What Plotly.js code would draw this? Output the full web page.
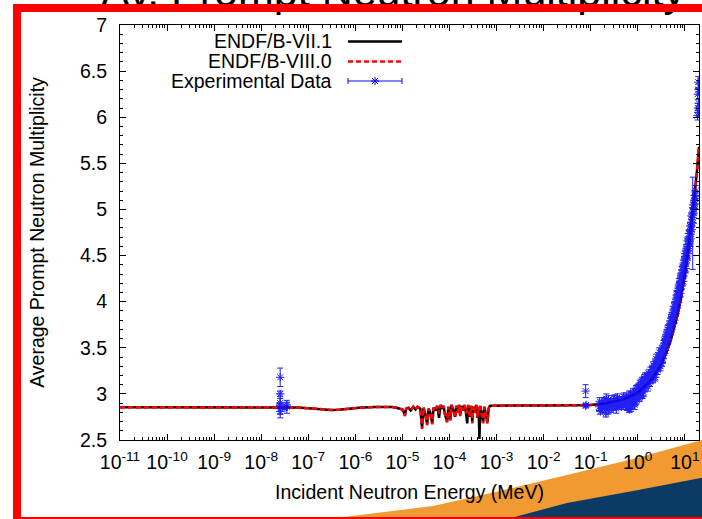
<!DOCTYPE html>
<html><head><meta charset="utf-8">
<script src="https://cdn.plot.ly/plotly-3.0.1.min.js"></script>
<style>html,body{margin:0;padding:0;background:#fff;}#chart{width:702px;height:519px;}</style>
</head><body><div id="chart"></div>
<script>
// ---------------- data ----------------
var seriesNames = ['ENDF/B-VII.1', 'ENDF/B-VIII.0', 'Experimental Data'];

var viiE = [1e-11,1e-9,1e-8,3e-8,6e-8,1e-7,2e-7,3e-7,4.5e-7,7e-7,1.2e-6,2.5e-6,5e-6,6e-6,7.5e-6,8.9e-6,1.0e-5,1.13e-5,1.2e-5,1.35e-5,1.5e-5,1.7e-5,1.9e-5,2.1e-5,2.4e-5,2.62e-5,2.8e-5,3.0e-5,3.35e-5,3.6e-5,3.9e-5,4.3e-5,4.6e-5,5.0e-5,5.5e-5,6.0e-5,6.5e-5,7.0e-5,7.5e-5,8.0e-5,8.9e-5,9.5e-5,1.04e-4,1.1e-4,1.2e-4,1.32e-4,1.4e-4,1.5e-4,1.6e-4,1.69e-4,1.8e-4,1.95e-4,2.1e-4,2.25e-4,2.38e-4,2.5e-4,2.7e-4,2.9e-4,3.05e-4,3.2e-4,3.45e-4,3.7e-4,3.95e-4,4.15e-4,4.33e-4,4.5e-4,4.8e-4,5.2e-4,5.5e-4,5.9e-4,6.4e-4,6.8e-4,7.2e-4,8e-4,1e-3,1e-2,0.05,0.1,0.2,0.5,1,2,3,4,5,6,7,8,9,10,12,14,16,18,20];
var viiNu = [2.855,2.855,2.855,2.856,2.852,2.845,2.832,2.826,2.828,2.838,2.850,2.857,2.860,2.858,2.85,2.84,2.83,2.77,2.84,2.85,2.82,2.86,2.83,2.86,2.84,2.63,2.85,2.80,2.67,2.84,2.80,2.68,2.85,2.82,2.87,2.74,2.88,2.84,2.87,2.78,2.70,2.86,2.72,2.88,2.83,2.75,2.87,2.80,2.88,2.77,2.87,2.82,2.88,2.79,2.68,2.88,2.75,2.87,2.69,2.86,2.80,2.88,2.74,2.86,2.51,2.87,2.78,2.69,2.86,2.79,2.69,2.84,2.87,2.872,2.873,2.875,2.877,2.88,2.895,2.94,3.01,3.16,3.30,3.44,3.58,3.72,3.86,4.00,4.14,4.29,4.58,4.87,5.12,5.40,5.68];

var viiiE = [1e-11,1e-9,1e-8,3e-8,6e-8,1e-7,2e-7,3e-7,4.5e-7,7e-7,1.2e-6,2.5e-6,5e-6,6e-6,7.5e-6,8.9e-6,1.0e-5,1.13e-5,1.2e-5,1.35e-5,1.5e-5,1.7e-5,1.9e-5,2.1e-5,2.4e-5,2.62e-5,2.8e-5,3.0e-5,3.35e-5,3.6e-5,3.9e-5,4.3e-5,4.6e-5,5.0e-5,5.5e-5,6.0e-5,6.5e-5,7.0e-5,7.5e-5,8.0e-5,8.9e-5,9.5e-5,1.04e-4,1.1e-4,1.2e-4,1.32e-4,1.4e-4,1.5e-4,1.6e-4,1.69e-4,1.8e-4,1.95e-4,2.1e-4,2.25e-4,2.38e-4,2.5e-4,2.7e-4,2.9e-4,3.05e-4,3.2e-4,3.45e-4,3.7e-4,3.95e-4,4.15e-4,4.33e-4,4.5e-4,4.8e-4,5.2e-4,5.5e-4,5.9e-4,6.4e-4,6.8e-4,7.2e-4,8e-4,1e-3,1e-2,0.05,0.1,0.2,0.5,1,2,3,4,5,6,7,8,9,10,12,14,16,18,20];
var viiiNu = [2.855,2.855,2.855,2.856,2.852,2.845,2.832,2.826,2.828,2.838,2.850,2.857,2.860,2.858,2.85,2.84,2.83,2.76,2.84,2.85,2.82,2.86,2.83,2.86,2.84,2.62,2.85,2.80,2.66,2.84,2.80,2.67,2.85,2.82,2.87,2.79,2.88,2.84,2.87,2.78,2.69,2.86,2.71,2.88,2.83,2.74,2.87,2.80,2.88,2.76,2.87,2.82,2.88,2.79,2.85,2.88,2.75,2.87,2.68,2.86,2.80,2.88,2.74,2.86,2.82,2.87,2.78,2.68,2.86,2.79,2.68,2.84,2.87,2.872,2.873,2.875,2.877,2.88,2.895,2.94,3.01,3.16,3.30,3.44,3.58,3.72,3.86,4.00,4.14,4.29,4.58,4.87,5.12,5.40,5.68];

var expE = [2.53e-8,2.53e-8,2.53e-8,2.53e-8,2.53e-8,2.53e-8,2.53e-8,3.2e-8,3.5e-8,3.5e-8,
  0.078,0.078,0.08,
  0.15,0.16,0.17,0.18,0.19,0.2,0.21,0.22,0.23,0.24,0.25,0.27,0.28,0.3,0.32,0.34,0.36,0.38,0.4,0.42,0.45,0.48,0.5,0.53,0.56,0.6,0.63,0.66,0.7,0.73,0.76,0.8,0.84,0.88,0.92,0.96,1.0,
  1.05,1.1,1.15,1.2,1.25,1.3,1.35,1.4,1.45,1.5,1.6,1.7,1.8,1.9,2.0,2.1,2.2,2.3,2.4,2.5,2.6,2.7,2.8,2.9,3.0,3.1,3.2,3.35,3.5,3.65,3.8,3.95,4.1,4.25,4.4,4.6,4.8,5.0,5.2,5.4,5.6,5.8,6.0,6.2,6.4,6.6,6.8,7.0,7.2,7.4,7.6,7.8,8.0,8.3,8.6,8.9,9.2,9.5,9.8,10.1,10.4,10.7,11.0,11.3,11.6,12.0,12.4,12.8,13.2,13.6,14.0,14.5,14.7,15.0,15.5,16.0,16.5,17.0,
  18.6,18.8,19.0,19.2,19.4,19.6,19.8];
var expNu = [3.18,3.00,2.90,2.87,2.84,2.81,2.88,2.85,2.86,2.88,
  3.03,2.87,2.88,
  2.86,2.81,2.90,2.84,2.93,2.87,2.79,2.91,2.86,2.94,2.88,2.83,2.92,2.89,2.95,2.86,2.91,2.88,2.94,2.90,2.86,2.93,2.97,2.89,2.92,2.85,2.95,2.83,2.99,2.93,2.87,3.02,2.96,2.90,3.05,2.97,3.01,
  3.08,2.95,3.12,3.04,2.98,3.10,3.15,3.06,3.19,3.09,3.13,3.22,3.11,3.18,3.26,3.15,3.29,3.21,3.33,3.24,3.36,3.28,3.40,3.31,3.35,3.44,3.33,3.49,3.42,3.55,3.47,3.60,3.53,3.66,3.58,3.72,3.64,3.79,3.70,3.84,3.76,3.90,3.80,3.95,3.87,4.02,3.93,4.08,3.99,4.14,4.05,4.20,4.09,4.26,4.17,4.34,4.22,4.40,4.31,4.47,4.36,4.55,4.45,4.62,4.52,4.68,4.60,4.77,4.68,4.86,4.78,4.95,4.85,5.02,4.96,5.10,5.06,5.20,
  6.02,6.25,6.10,6.38,6.05,6.30,6.15];
var expErr = [0.10,0.03,0.05,0.13,0.06,0.03,0.02,0.02,0.07,0.03,
  0.07,0.02,0.01,
  0.04,0.03,0.03,0.04,0.03,0.03,0.04,0.03,0.03,0.04,0.03,0.03,0.03,0.03,0.04,0.03,0.03,0.03,0.03,0.03,0.03,0.03,0.04,0.03,0.03,0.03,0.03,0.03,0.04,0.03,0.03,0.04,0.03,0.03,0.04,0.03,0.03,
  0.03,0.03,0.04,0.03,0.03,0.03,0.04,0.03,0.04,0.03,0.03,0.04,0.03,0.03,0.04,0.03,0.04,0.03,0.04,0.03,0.04,0.03,0.04,0.03,0.03,0.04,0.03,0.04,0.03,0.04,0.03,0.04,0.03,0.04,0.03,0.04,0.03,0.04,0.03,0.04,0.03,0.04,0.03,0.04,0.03,0.04,0.03,0.04,0.03,0.05,0.03,0.05,0.04,0.05,0.04,0.05,0.04,0.05,0.04,0.05,0.04,0.05,0.04,0.06,0.05,0.06,0.05,0.06,0.05,0.06,0.05,0.06,0.50,0.06,0.05,0.06,0.05,0.06,
  0.05,0.06,0.05,0.06,0.05,0.06,0.05];

// second experimental set (same legend entry)
var exp2E = [0.155,0.175,0.195,0.215,0.235,0.26,0.29,0.31,0.33,0.35,0.37,0.39,0.41,0.44,0.47,0.52,0.55,0.58,0.62,0.65,0.68,0.72,0.75,0.78,0.82,0.86,0.9,0.94,0.98,1.02,1.08,1.13,1.18,1.23,1.28,1.33,1.38,1.43,1.55,1.65,1.75,1.85,1.95,2.05,2.15,2.25,2.35,2.45,2.55,2.65,2.75,2.85,2.95,3.05,3.15,3.27,3.42,3.57,3.72,3.87,4.02,4.17,4.32,4.5,4.7,4.9,5.1,5.3,5.5,5.7,5.9,6.1,6.3,6.5,6.7,6.9,7.1,7.3,7.5,7.7,7.9,8.15,8.45,8.75,9.05,9.35,9.65,9.95,10.25,10.55,10.85,11.15,11.45,11.8,12.2,12.6,13.0,13.4,13.8,14.2,15.2,15.8,16.2,16.8];
var exp2Nu = [2.92,2.85,2.89,2.95,2.82,2.90,2.86,2.93,2.88,2.84,2.96,2.91,2.87,2.92,2.89,2.94,2.87,2.96,2.91,2.98,2.90,2.86,2.97,2.93,2.99,2.88,3.01,2.94,3.06,2.97,3.03,3.09,3.00,3.13,3.06,3.02,3.17,3.11,3.18,3.08,3.16,3.24,3.20,3.22,3.31,3.25,3.18,3.38,3.30,3.26,3.35,3.45,3.38,3.30,3.39,3.47,3.38,3.50,3.58,3.52,3.64,3.57,3.70,3.63,3.75,3.70,3.82,3.77,3.88,3.83,3.95,3.88,4.00,3.94,4.07,4.00,4.12,4.07,4.18,4.12,4.25,4.20,4.31,4.25,4.38,4.32,4.45,4.38,4.52,4.46,4.58,4.53,4.66,4.60,4.74,4.66,4.82,4.76,4.93,4.86,5.05,5.00,5.15,5.12];
var exp2Err = [0.04,0.05,0.04,0.05,0.04,0.05,0.04,0.05,0.04,0.05,0.04,0.05,0.04,0.05,0.04,0.05,0.04,0.05,0.04,0.05,0.04,0.05,0.04,0.05,0.04,0.05,0.04,0.05,0.04,0.05,0.04,0.05,0.04,0.05,0.04,0.05,0.04,0.05,0.04,0.05,0.04,0.05,0.04,0.05,0.04,0.05,0.04,0.05,0.04,0.05,0.04,0.05,0.04,0.05,0.04,0.05,0.04,0.05,0.04,0.05,0.04,0.05,0.04,0.05,0.04,0.05,0.04,0.05,0.04,0.05,0.04,0.05,0.04,0.05,0.04,0.05,0.04,0.05,0.04,0.05,0.04,0.05,0.04,0.05,0.04,0.05,0.04,0.05,0.04,0.05,0.04,0.05,0.04,0.05,0.04,0.05,0.04,0.05,0.04,0.05,0.05,0.06,0.05,0.06];

var xTickVals = [1e-11,1e-10,1e-9,1e-8,1e-7,1e-6,1e-5,1e-4,1e-3,1e-2,1e-1,1,10];
var xTickText = ['10<sup>-11</sup>','10<sup>-10</sup>','10<sup>-9</sup>','10<sup>-8</sup>','10<sup>-7</sup>','10<sup>-6</sup>','10<sup>-5</sup>','10<sup>-4</sup>','10<sup>-3</sup>','10<sup>-2</sup>','10<sup>-1</sup>','10<sup>0</sup>','10<sup>1</sup>'];
var yTickVals = [2.5,3,3.5,4,4.5,5,5.5,6,6.5,7];
var yTickText = ['2.5','3','3.5','4','4.5','5','5.5','6','6.5','7'];

var titleText = 'Av. Prompt Neutron Multiplicity';
var xTitle = 'Incident Neutron Energy (MeV)';
var yTitle = 'Average Prompt Neutron Multiplicity';

// ---------------- geometry helpers (page pixels -> paper) ----------------
var W = 702, H = 519, ML = 120, MR = 3, MT = 25, MB = 79;
var PW = W - ML - MR, PH = H - MT - MB;
function px(x){ return (x - ML) / PW; }
function py(y){ return (H - MB - y) / PH; }

var minorX = [];
for (var d = -11; d <= 1; d++) { for (var k = 2; k <= 9; k++) { var v = k * Math.pow(10, d); if (v <= 20) minorX.push(v); } }

var FONT = 'Liberation Sans, Arial, Helvetica, sans-serif';
var FS = 19.5;
var BLUE = 'rgb(10,10,245)';
var expMarker = {symbol:'asterisk-open', size:7, color:BLUE, line:{color:BLUE, width:1}};

var traces = [
  {type:'scatter', mode:'lines', x:viiE, y:viiNu, name:seriesNames[0],
   line:{color:'#000000', width:2.5}, hoverinfo:'skip'},
  {type:'scatter', mode:'lines', x:viiiE, y:viiiNu, name:seriesNames[1],
   line:{color:'#ff0000', width:2.5, dash:'5px,3px'}, hoverinfo:'skip'},
  {type:'scatter', mode:'markers', x:expE.concat(exp2E), y:expNu.concat(exp2Nu), name:seriesNames[2],
   marker:expMarker, opacity:0.9,
   error_y:{type:'data', array:expErr.concat(exp2Err), visible:true, color:BLUE, thickness:1, width:3}},
  // legend samples (overlay axes in paper fractions)
  {type:'scatter', mode:'lines', xaxis:'x2', yaxis:'y2', x:[px(348), px(402)], y:[py(41.5), py(41.5)],
   line:{color:'#000000', width:2.5}, hoverinfo:'skip'},
  {type:'scatter', mode:'lines', xaxis:'x2', yaxis:'y2', x:[px(348), px(402)], y:[py(61.5), py(61.5)],
   line:{color:'#ff0000', width:2.5, dash:'5px,3px'}, hoverinfo:'skip'},
  {type:'scatter', mode:'markers', xaxis:'x2', yaxis:'y2', x:[px(375)], y:[py(81)],
   marker:expMarker,
   error_x:{type:'constant', value:27/PW, visible:true, color:BLUE, thickness:1, width:3}, hoverinfo:'skip'}
];

var axisCommon = {
  showline:true, linecolor:'#000', linewidth:1, mirror:'ticks',
  ticks:'inside', ticklen:6, tickwidth:1, tickcolor:'#000',
  showgrid:false, zeroline:false, fixedrange:true,
  tickfont:{family:FONT, size:FS, color:'#000'}
};

var layout = {
  width:W, height:H, margin:{l:ML, r:MR, t:MT, b:MB, pad:0},
  paper_bgcolor:'#ffffff', plot_bgcolor:'#ffffff', showlegend:false,
  font:{family:FONT, size:FS, color:'#000'},
  xaxis:Object.assign({}, axisCommon, {
    type:'log', range:[-11, Math.log10(20)], tickmode:'array', tickvals:xTickVals, ticktext:xTickText,
    tickangle:0, ticklabelstandoff:5,
    minor:{tickmode:'array', tickvals:minorX, ticks:'inside', ticklen:3, tickwidth:1, tickcolor:'#000'},
    title:{text:xTitle, font:{family:FONT, size:FS, color:'#000'}, standoff:12}
  }),
  yaxis:Object.assign({}, axisCommon, {
    range:[2.5, 7], tickmode:'array', tickvals:yTickVals, ticktext:yTickText, ticklabelstandoff:8,
    minor:{dtick:0.1, tick0:2.5, ticks:'inside', ticklen:3, tickwidth:1, tickcolor:'#000'},
    title:{text:yTitle, font:{family:FONT, size:FS, color:'#000'}, standoff:30}
  }),
  xaxis2:{overlaying:'x', range:[0,1], visible:false, fixedrange:true},
  yaxis2:{overlaying:'y', range:[0,1], visible:false, fixedrange:true},
  shapes:[
    {type:'path', xref:'paper', yref:'paper', layer:'below', line:{width:0}, fillcolor:'#f09a31',
     path:'M '+px(296)+','+py(523)+' L '+px(360)+','+py(515)+' L '+px(433)+','+py(506)+' L '+px(500)+','+py(491)+' L '+px(567)+','+py(475)+' L '+px(633)+','+py(459)+' L '+px(706)+','+py(439)+' L '+px(706)+','+py(523)+' Z'},
    {type:'path', xref:'paper', yref:'paper', layer:'below', line:{width:0}, fillcolor:'#0b3a65',
     path:'M '+px(492)+','+py(523)+' L '+px(567)+','+py(503)+' L '+px(633)+','+py(491)+' L '+px(706)+','+py(477)+' L '+px(706)+','+py(523)+' Z'}
  ],
  annotations:[
    {text:titleText, xref:'paper', yref:'paper', x:px(393), y:py(17), xanchor:'center', yanchor:'bottom',
     showarrow:false, font:{family:FONT, size:43, color:'#000'}},
    {text:' ', xref:'paper', yref:'paper', x:px(364.5), y:py(264.75), xanchor:'center', yanchor:'middle',
     width:687, height:504.5, borderwidth:8, borderpad:0, bordercolor:'#ff0000', bgcolor:'rgba(0,0,0,0)', showarrow:false},
    {text:seriesNames[0], xref:'paper', yref:'paper', x:px(334), y:py(41), xanchor:'right', yanchor:'middle', showarrow:false, font:{family:FONT, size:FS, color:'#000'}},
    {text:seriesNames[1], xref:'paper', yref:'paper', x:px(334), y:py(61), xanchor:'right', yanchor:'middle', showarrow:false, font:{family:FONT, size:FS, color:'#000'}},
    {text:seriesNames[2], xref:'paper', yref:'paper', x:px(334), y:py(81), xanchor:'right', yanchor:'middle', showarrow:false, font:{family:FONT, size:FS, color:'#000'}}
  ]
};

Plotly.newPlot('chart', traces, layout, {staticPlot:true, displayModeBar:false});
</script></body></html>
